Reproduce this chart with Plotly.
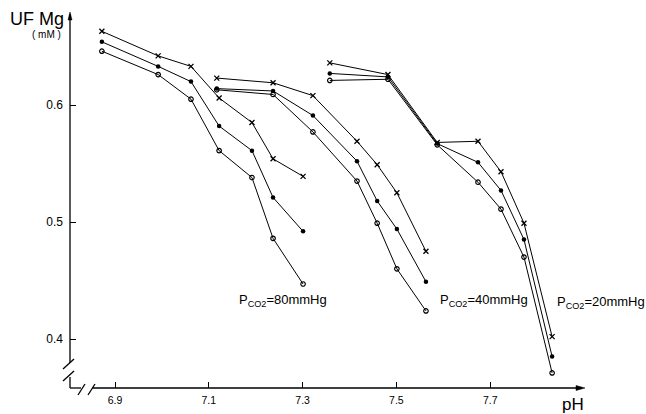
import plotly.graph_objects as go

# ---------------- data ----------------
ph80 = [6.872, 6.992, 7.062, 7.122, 7.192, 7.237, 7.301]
mg80_x = [0.663, 0.642, 0.633, 0.606, 0.585, 0.554, 0.539]
mg80_f = [0.654, 0.633, 0.620, 0.582, 0.561, 0.521, 0.492]
mg80_o = [0.646, 0.626, 0.605, 0.561, 0.538, 0.486, 0.447]

ph40 = [7.117, 7.237, 7.322, 7.416, 7.459, 7.501, 7.563]
mg40_x = [0.623, 0.619, 0.608, 0.569, 0.549, 0.525, 0.475]
mg40_f = [0.614, 0.612, 0.591, 0.552, 0.518, 0.494, 0.449]
mg40_o = [0.613, 0.609, 0.577, 0.535, 0.499, 0.460, 0.424]

ph20 = [7.358, 7.482, 7.587, 7.674, 7.723, 7.772, 7.832]
mg20_x = [0.636, 0.626, 0.568, 0.569, 0.543, 0.499, 0.402]
mg20_f = [0.627, 0.624, 0.567, 0.551, 0.527, 0.485, 0.385]
mg20_o = [0.621, 0.622, 0.566, 0.534, 0.511, 0.470, 0.371]

x_ticks = [6.9, 7.1, 7.3, 7.5, 7.7]
x_tick_labels = ["6.9", "7.1", "7.3", "7.5", "7.7"]
y_ticks = [0.4, 0.5, 0.6]
y_tick_labels = ["0.4", "0.5", "0.6"]

labels = [("P<sub>CO2</sub>=80mmHg", 7.160, 0.433),
          ("P<sub>CO2</sub>=40mmHg", 7.589, 0.433),
          ("P<sub>CO2</sub>=20mmHg", 7.838, 0.431)]

# ---------------- layout geometry ----------------
W, H = 646, 414
L, B = 70, 26
PW, PH_ = W - L, H - B
# calibration: pixel position of 6.9 and px per pH unit; pixel of 0.6 and px per mM
X0PX, XSCALE = 115.0, 469.0
Y0PX, YSCALE = 105.0, 1170.0
xr = [6.9 + (L - X0PX) / XSCALE, 6.9 + (W - X0PX) / XSCALE]
yr = [0.6 - (PH_ - Y0PX) / YSCALE, 0.6 + Y0PX / YSCALE]


def px(x):
    return (x - L) / PW


def py(y):
    return (PH_ - y) / PH_


FONT = "Liberation Sans"
fig = go.Figure()

groups = [(ph80, mg80_x, mg80_f, mg80_o), (ph40, mg40_x, mg40_f, mg40_o),
          (ph20, mg20_x, mg20_f, mg20_o)]
for ph, mx, mf, mo in groups:
    fig.add_trace(go.Scatter(x=ph, y=mx, mode="lines+markers",
                             line=dict(color="black", width=1),
                             marker=dict(symbol="x-thin", size=5, color="black",
                                         line=dict(color="black", width=1.3))))
    fig.add_trace(go.Scatter(x=ph, y=mf, mode="lines+markers",
                             line=dict(color="black", width=1),
                             marker=dict(symbol="circle", size=4.5, color="black")))
    fig.add_trace(go.Scatter(x=ph, y=mo, mode="lines+markers",
                             line=dict(color="black", width=1),
                             marker=dict(symbol="circle-open", size=4.5, color="black",
                                         line=dict(color="black", width=1.2))))

shapes = []


def seg(x1, y1, x2, y2, w=1.3):
    shapes.append(dict(type="line", xref="paper", yref="paper",
                       x0=px(x1), y0=py(y1), x1=px(x2), y1=py(y2),
                       line=dict(color="black", width=w)))


# y axis with break
seg(70, 14, 70, 363)
seg(63, 369, 74, 359)
seg(63, 381, 74, 371)
seg(70, 377, 70, 388)
# x axis with break
seg(70, 388, 81, 388)
seg(78, 395, 85, 384)
seg(88, 395, 95, 384)
seg(92, 388, 578, 388)
# arrow heads
shapes.append(dict(type="path", xref="paper", yref="paper",
                   path=f"M {px(576)},{py(385.5)} L {px(585)},{py(388)} L {px(576)},{py(390.5)} Z",
                   fillcolor="black", line=dict(color="black", width=0.5)))
shapes.append(dict(type="path", xref="paper", yref="paper",
                   path=f"M {px(68)},{py(20)} L {px(70)},{py(12)} L {px(72)},{py(20)} Z",
                   fillcolor="black", line=dict(color="black", width=0.5)))

annotations = []
for txt, x, y in labels:
    annotations.append(dict(text=txt, x=x, y=y, xref="x", yref="y", xanchor="left",
                            yanchor="middle", showarrow=False,
                            font=dict(family=FONT, size=13, color="black")))
annotations.append(dict(text="UF Mg", x=px(37), y=py(19), xref="paper", yref="paper",
                        xanchor="center", yanchor="middle",
                        showarrow=False, font=dict(family=FONT, size=18, color="black")))
annotations.append(dict(text="( mM )", x=px(46), y=py(34), xref="paper", yref="paper",
                        xanchor="center", yanchor="middle",
                        showarrow=False, font=dict(family=FONT, size=10, color="black")))
annotations.append(dict(text="pH", x=px(573), y=py(404), xref="paper", yref="paper",
                        xanchor="center", yanchor="middle",
                        showarrow=False, font=dict(family=FONT, size=17, color="black")))

fig.update_layout(
    width=W, height=H, margin=dict(l=L, r=0, t=0, b=B),
    paper_bgcolor="white", plot_bgcolor="white", showlegend=False,
    shapes=shapes, annotations=annotations,
    xaxis=dict(range=xr, tickvals=x_ticks, ticktext=x_tick_labels, ticks="inside",
               ticklen=6, tickwidth=1.3, tickcolor="black", showgrid=False,
               zeroline=False, showline=False, ticklabelstandoff=4,
               tickfont=dict(family=FONT, size=10.5, color="black")),
    yaxis=dict(range=yr, tickvals=y_ticks, ticktext=y_tick_labels, ticks="inside",
               ticklen=6, tickwidth=1.3, tickcolor="black", showgrid=False,
               zeroline=False, showline=False, ticklabelstandoff=6,
               tickfont=dict(family=FONT, size=12, color="black")),
)

fig.write_html("out.html")
